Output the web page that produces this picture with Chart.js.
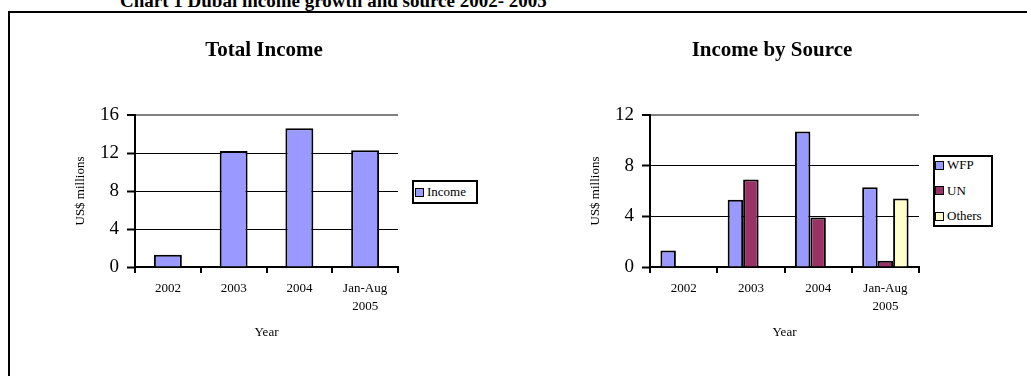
<!DOCTYPE html>
<html>
<head>
<meta charset="utf-8">
<script src="https://cdn.jsdelivr.net/npm/chart.js@4.4.0/dist/chart.umd.min.js"></script>
<style>
  body { margin: 0; background: #fff; width: 1027px; height: 376px; overflow: hidden; position: relative;
         font-family: "Liberation Serif", "Times New Roman", serif; color: #000; }
  #frame { position: absolute; left: 8px; top: 11px; width: 1100px; height: 400px;
           border-left: 2px solid #000; border-top: 2px solid #000; }
  #main { position: absolute; left: 120px; top: -9px; font-size: 19px; line-height: 19px;
          font-weight: bold; white-space: nowrap; }
  .ctitle { position: absolute; top: 39px; width: 300px; text-align: center; font-size: 21px;
            line-height: 21px; font-weight: bold; white-space: nowrap; }
  canvas { position: absolute; top: 0; }
  .legend { position: absolute; border: 2px solid #000; box-sizing: border-box; background: #fff; font-size: 13px; }
  .item { position: absolute; height: 14px; display: flex; align-items: center; white-space: nowrap; }
  .sw { width: 9px; height: 9px; box-sizing: border-box; border: 1.5px solid #000; margin-right: 3px; }
</style>
</head>
<body>
<div id="frame"></div>
<div id="main">Chart 1 Dubai income growth and source 2002- 2005</div>
<canvas id="total" width="520" height="376" style="left:0px"></canvas>
<canvas id="source" width="507" height="376" style="left:520px"></canvas>
<div class="ctitle" style="left:114px">Total Income</div>
<div class="ctitle" style="left:622px">Income by Source</div>
<div class="legend" id="legTotal" style="left:412px; top:180px; width:66px; height:24px"></div>
<div class="legend" id="legSource" style="left:933px; top:155px; width:60px; height:72px"></div>

<script>
// data (US$ millions)
const years = ['2002', '2003', '2004', ['Jan-Aug', '2005']];
const totalIncome = [1.3, 12.2, 14.6, 12.3];
const wfp = [1.3, 5.3, 10.7, 6.3];
const un = [null, 6.9, 3.9, 0.5];
const others = [null, null, null, 5.4];
const totalTicks = [0, 4, 8, 12, 16];
const sourceTicks = [0, 4, 8, 12];

const blue = '#9999FF';
const plum = '#993366';
const cream = '#FFFFCC';

Chart.defaults.font.family = '"Liberation Serif", "Times New Roman", serif';
Chart.defaults.color = '#000';

function makeChart(id, sets, yTicks, padLeft, padRight, catPct, barPct) {
    const max = yTicks[yTicks.length - 1];
    return new Chart(document.getElementById(id), {
        type: 'bar',
        data: {
            labels: years,
            datasets: sets.map(s => ({
                label: s.label,
                data: s.data,
                backgroundColor: s.color,
                borderColor: '#000',
                borderWidth: 2,
                categoryPercentage: catPct,
                barPercentage: barPct
            }))
        },
        options: {
            responsive: false,
            animation: false,
            layout: { padding: { left: padLeft, right: padRight, top: 115, bottom: 0 } },
            plugins: {
                legend: { display: false },
                title: { display: false },
                tooltip: { enabled: false }
            },
            scales: {
                x: {
                    afterFit: s => { s.height = 109; },
                    border: { color: '#000', width: 2 },
                    grid: {
                        offset: true,
                        color: c => c.index === years.length ? '#808080' : 'rgba(0,0,0,0)',
                        lineWidth: 2,
                        tickColor: '#000',
                        tickWidth: 2,
                        tickLength: 6
                    },
                    ticks: { font: { size: 13, lineHeight: 1.38 }, padding: 7, maxRotation: 0, autoSkip: false },
                    title: { display: true, text: 'Year', font: { size: 13 }, padding: { top: 0, bottom: 36 } }
                },
                y: {
                    min: 0,
                    max: max,
                    afterFit: s => { s.width = 75; },
                    afterBuildTicks: s => { s.ticks = yTicks.map(v => ({ value: v })); },
                    border: { color: '#000', width: 2 },
                    grid: {
                        color: c => c.tick && c.tick.value === max ? '#808080' : '#000',
                        lineWidth: c => c.tick && c.tick.value === max ? 2 : 1,
                        tickColor: '#000',
                        tickWidth: 2,
                        tickLength: 8
                    },
                    ticks: { font: { size: 19 }, padding: 8 },
                    title: { display: true, text: 'US$ millions', font: { size: 13 }, padding: { top: 13, bottom: 0 } }
                }
            }
        }
    });
}

function makeLegend(id, sets, firstTop, step) {
    const box = document.getElementById(id);
    sets.forEach((s, i) => {
        const item = document.createElement('div');
        item.className = 'item';
        item.style.top = (firstTop + i * step) + 'px';
        item.style.left = s.left + 'px';
        const sw = document.createElement('span');
        sw.className = 'sw';
        sw.style.background = s.color;
        const txt = document.createElement('span');
        txt.textContent = s.label;
        item.appendChild(sw);
        item.appendChild(txt);
        box.appendChild(item);
    });
}

const totalSets = [{ label: 'Income', data: totalIncome, color: blue, left: 1 }];
const sourceSets = [
    { label: 'WFP', data: wfp, color: blue, left: 0 },
    { label: 'UN', data: un, color: plum, left: 0 },
    { label: 'Others', data: others, color: cream, left: 0 }
];

makeChart('total', totalSets, totalTicks, 60, 122, 0.85, 0.5);
makeChart('source', sourceSets, sourceTicks, 55, 108, 0.69, 1.0);

makeLegend('legTotal', totalSets, 3, 0);
makeLegend('legSource', sourceSets, 1, 25.5);
</script>
</body>
</html>
